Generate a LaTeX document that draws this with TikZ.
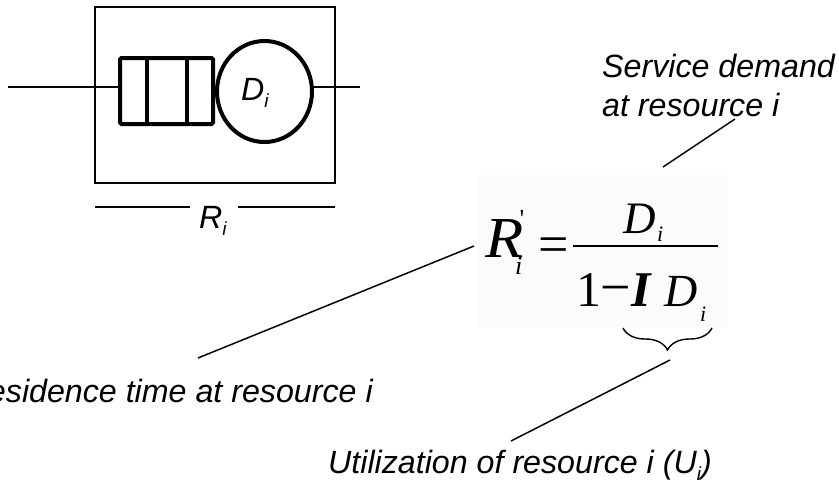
\documentclass[tikz,border=0pt]{standalone}
\usepackage{fontspec}
\setmainfont{Liberation Sans}
\newfontfamily\serifF{Liberation Serif}
\newfontfamily\serifQ[Ligatures=TeXOff]{Liberation Serif}
\usetikzlibrary{decorations.pathreplacing,shapes.geometric}
\newcommand\lsub[1]{\raisebox{-0.22em}{\fontsize{19}{19}\selectfont #1}}
\begin{document}
\begin{tikzpicture}[x=1pt,y=-1pt,
  thin line/.style={line width=1.5pt},
  thick line/.style={line width=4pt},
  lbl/.style={inner sep=0pt,font=\fontsize{32.2}{38}\selectfont\itshape},
  fm/.style={inner sep=0pt},
]
\useasboundingbox (0,0) rectangle (839,483);
% ---------- queue ----------
\node[draw,thin line,minimum width=240pt,minimum height=176pt,inner sep=0pt] (box) at (215,95) {};
\node[draw,thick line,rounded corners=1.5pt,minimum width=93pt,minimum height=66pt,inner sep=0pt] (queue) at (166.5,91) {};
\draw[thick line,line cap=round] (147,58) -- (147,124);
\draw[thick line,line cap=round] (187,58) -- (187,124);
\node[draw,thick line,ellipse,minimum width=95pt,minimum height=101pt,inner sep=0pt] (server) at (264.5,91.5) {};
\node[lbl,anchor=base west] (dlab) at (241,100) {D\lsub{i}};
\coordinate (in) at (8,87);
\coordinate (out) at (360,87);
\coordinate (sright) at (312,87);
\draw[thin line] (in) -- (queue.west |- in);
\draw[thin line] (sright) -- (out);
% R_i dimension
\node[lbl,anchor=base west] (rlab) at (199,228) {R\lsub{i}};
\coordinate (r1) at (95,207); \coordinate (r2) at (190,207);
\coordinate (r3) at (238,207); \coordinate (r4) at (335,207);
\draw[thin line] (r1) -- (r2);
\draw[thin line] (r3) -- (r4);
% ---------- formula ----------
\fill[gray!3] (478,175) rectangle (727,327);
\node[fm,anchor=base west,font=\fontsize{58}{58}\selectfont\serifF\itshape] (R) at (485,257) {\scalebox{1.08}[1]{R}};
\node[fm,anchor=base west,font=\fontsize{26}{26}\selectfont\serifF\itshape] (Ri) at (515,274) {i};
\node[fm,anchor=north,font=\fontsize{26}{26}\selectfont\serifQ] (prime) at (522,210) {'};
\node[fm,anchor=base west,font=\fontsize{54}{54}\selectfont\serifF] (eq) at (538,262) {=};
\draw[line width=2.2pt] (573,246) -- (718,246);
\node[fm,anchor=base west,font=\fontsize{45}{45}\selectfont\serifF\itshape] (Dn) at (623,233) {D};
\node[fm,anchor=base west,font=\fontsize{22}{22}\selectfont\serifF\itshape] (Dni) at (657,241) {i};
\node[fm,anchor=base west,font=\fontsize{50}{50}\selectfont\serifF] (one) at (576,306) {1};
\node[fm,anchor=base west,font=\fontsize{54}{54}\selectfont\serifF] (minus) at (600,305) {−};
\node[fm,anchor=base west,font=\fontsize{50}{50}\selectfont\serifF\bfseries\itshape] (lam) at (631,306) {I};
\node[fm,anchor=base west,font=\fontsize{46}{46}\selectfont\serifF\itshape] (Dd) at (664,306) {D};
\node[fm,anchor=base west,font=\fontsize{22}{22}\selectfont\serifF\itshape] (Ddi) at (700,321) {i};
\draw[line width=1.4pt,decorate,decoration={brace,mirror,amplitude=22pt}] (623,328) -- (712,328);
% ---------- callouts ----------
\node[lbl,anchor=base west] (sd1) at (602,77) {Service demand};
\node[lbl,anchor=base west] (sd2) at (602,116) {at resource i};
\coordinate (sdA) at (735,119); \coordinate (sdB) at (663,167);
\draw[thin line] (sdA) -- (sdB);
\node[lbl,anchor=base east] (res) at (373,402) {Residence time at resource i};
\coordinate (resA) at (198,358); \coordinate (resB) at (474,246);
\draw[thin line] (resA) -- (resB);
\node[lbl,anchor=base east] (util) at (712,473) {Utilization of resource i (U\lsub{i})};
\coordinate (utA) at (511,441); \coordinate (utB) at (670,360);
\draw[thin line] (utA) -- (utB);
\end{tikzpicture}
\end{document}
